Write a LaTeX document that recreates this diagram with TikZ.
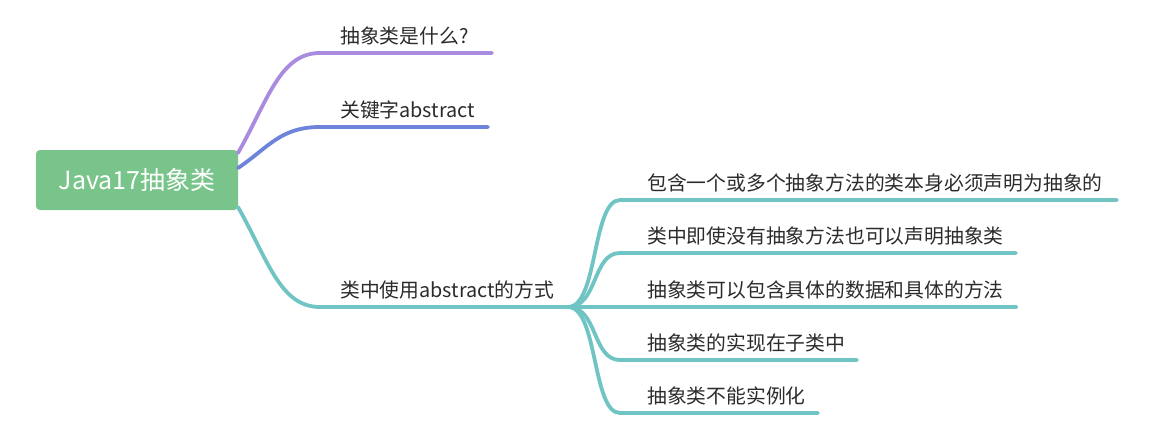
\documentclass[tikz,border=0pt]{standalone}
\usepackage{fontspec}
\setmainfont{Noto Sans CJK SC}
\usepackage{xcolor}
\definecolor{rootgreen}{HTML}{78C48A}
\definecolor{lilac}{HTML}{A98BE0}
\definecolor{bluebr}{HTML}{6E84DB}
\definecolor{teal}{HTML}{70C4C4}
\definecolor{txt}{HTML}{2B2B2B}
\tikzset{
  lbl/.style={anchor=south west, inner sep=0pt, text=txt, font=\fontsize{19.8}{22}\selectfont},
  br/.style={line width=3.8pt, line cap=round}
}
\begin{document}
\begin{tikzpicture}[x=1pt,y=-1pt]
        \useasboundingbox (0,0) rectangle (1154,440);

        \node[fill=rootgreen, rounded corners=4pt, minimum width=202pt, minimum height=60pt,
          text=white, font=\fontsize{25}{28}\selectfont] (root) at (137,180) {Java17抽象类};

        \coordinate (Wa) at (238,153);
        \coordinate (Wb) at (238,168);
        \coordinate (Wc) at (238,207);

        \coordinate (A) at (320,53);
        \coordinate (Ar) at (492,53);
        \coordinate (B) at (320,127);
        \coordinate (Br) at (488,127);
        \coordinate (C) at (320,307);
        \coordinate (Cr) at (568,307);

        \coordinate (Ca) at (620,200);
        \coordinate (Car) at (1117,200);
        \coordinate (Cb) at (620,253);
        \coordinate (Cbr) at (1016,253);
        \coordinate (Cc) at (620,307);
        \coordinate (Ccr) at (1016,307);
        \coordinate (Cd) at (620,360);
        \coordinate (Cdr) at (857,360);
        \coordinate (Ce) at (620,413);
        \coordinate (Cer) at (818,413);

        \draw[lbl] (340,45) node (Atxt) {抽象类是什么?};
        \draw[lbl] (340,119) node (Btxt) {关键字abstract};
        \draw[lbl] (340,299) node (Ctxt) {类中使用abstract的方式};

        \draw[lbl] (647,192) node (Catxt) {包含一个或多个抽象方法的类本身必须声明为抽象的};
        \draw[lbl] (647,245) node (Cbtxt) {类中即使没有抽象方法也可以声明抽象类};
        \draw[lbl] (647,299) node (Cctxt) {抽象类可以包含具体的数据和具体的方法};
        \draw[lbl] (647,352) node (Cdtxt) {抽象类的实现在子类中};
        \draw[lbl] (647,405) node (Cetxt) {抽象类不能实例化};

        \draw[br, lilac] (Wa) .. controls (268,100) and (280,53) .. (A) -- (Ar);
        \draw[br, bluebr] (Wb) .. controls (268,148) and (280,127) .. (B) -- (Br);
        \draw[br, teal] (Wc) .. controls (268,260) and (280,307) .. (C) -- (Cr);

        \draw[br, teal] (Cr) .. controls (598,307) and (592,200) .. (Ca) -- (Car);
        \draw[br, teal] (Cr) .. controls (598,307) and (592,253) .. (Cb) -- (Cbr);
        \draw[br, teal] (Cr) -- (Cc) -- (Ccr);
        \draw[br, teal] (Cr) .. controls (598,307) and (592,360) .. (Cd) -- (Cdr);
        \draw[br, teal] (Cr) .. controls (598,307) and (592,413) .. (Ce) -- (Cer);
      \end{tikzpicture}
\end{document}
